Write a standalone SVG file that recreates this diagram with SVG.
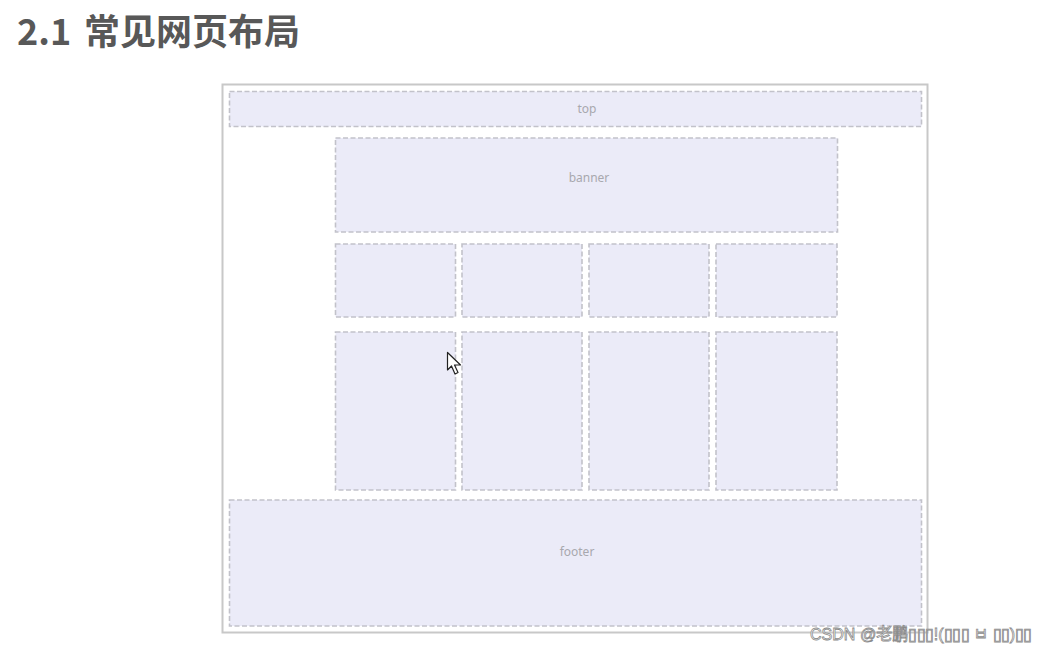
<svg xmlns="http://www.w3.org/2000/svg" width="1045" height="653" viewBox="0 0 1045 653">
<style>
.box{fill:#ebebf8;stroke:#c2c2ca;stroke-width:1.6;stroke-dasharray:5 2.5}
.lbl{font-family:"Noto Sans","Liberation Sans",sans-serif;font-size:12px;fill:#a8a8ae;text-anchor:middle}
.ttl{font-family:"Noto Sans CJK SC","Noto Sans",sans-serif;font-weight:bold;fill:#585858}
</style>
<rect width="1045" height="653" fill="#ffffff"/>
<g id="title">
<text class="ttl" x="17" y="45" font-size="36">2.1</text>
<text class="ttl" x="84" y="45" font-size="36" textLength="216" lengthAdjust="spacing">常见网页布局</text>
</g>
<rect id="frame" x="222.5" y="84.5" width="705" height="548" fill="#ffffff" stroke="#c8c8c8" stroke-width="2"/>
<g id="top"><rect class="box" x="229.5" y="91.5" width="692" height="35"/><text class="lbl" x="587" y="113">top</text></g>
<g id="banner"><rect class="box" x="335.5" y="138" width="502" height="94"/><text class="lbl" x="589" y="182">banner</text></g>
<g id="r1c1"><rect class="box" x="335.5" y="244" width="120" height="73"/></g>
<g id="r1c2"><rect class="box" x="462" y="244" width="120" height="73"/></g>
<g id="r1c3"><rect class="box" x="589" y="244" width="120" height="73"/></g>
<g id="r1c4"><rect class="box" x="716" y="244" width="121" height="73"/></g>
<g id="r2c1"><rect class="box" x="335.5" y="332" width="120" height="158"/></g>
<g id="r2c2"><rect class="box" x="462" y="332" width="120" height="158"/></g>
<g id="r2c3"><rect class="box" x="589" y="332" width="120" height="158"/></g>
<g id="r2c4"><rect class="box" x="716" y="332" width="121" height="158"/></g>
<g id="footer"><rect class="box" x="229.5" y="500" width="692" height="126"/><text class="lbl" x="577" y="556">footer</text></g>
<g id="connectors"></g>
<path d="M447.5 352.5 L447.5 370 L451.5 366 L455 374 L458 372.5 L454.5 365 L460.5 365 Z" fill="#ffffff" stroke="#222" stroke-width="1.2" stroke-linejoin="round"/>
<text x="810" y="640" font-family="'Liberation Sans','Noto Sans CJK SC',sans-serif" font-size="17" fill="#ffffff" stroke="#8a8a8a" stroke-width="0.8" textLength="222" lengthAdjust="spacingAndGlyphs">CSDN @老鹏▯▯▯!(▯▯▯ ㅂ ▯▯)▯▯</text>
</svg>
